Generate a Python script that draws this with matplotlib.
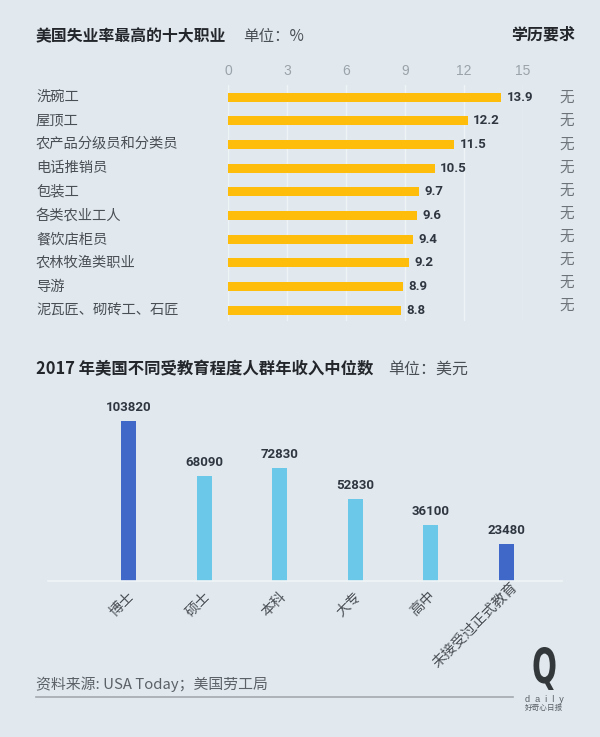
import matplotlib
matplotlib.use('Agg')
import matplotlib.pyplot as plt
from matplotlib.textpath import TextPath
from matplotlib.patches import PathPatch
from matplotlib.font_manager import FontProperties
from matplotlib.transforms import Affine2D

plt.rcParams['font.family'] = ['Noto Sans CJK SC', 'DejaVu Sans']

# datos
jobs = ['洗碗工', '屋顶工', '农产品分级员和分类员', '电话推销员', '包装工',
        '各类农业工人', '餐饮店柜员', '农林牧渔类职业', '导游', '泥瓦匠、砌砖工、石匠']
rates = [13.9, 12.2, 11.5, 10.5, 9.7, 9.6, 9.4, 9.2, 8.9, 8.8]
edu_req = ['无'] * 10
rate_ticks = [0, 3, 6, 9, 12, 15]

degrees = ['博士', '硕士', '本科', '大专', '高中', '未接受过正式教育']
incomes = [103820, 68090, 72830, 52830, 36100, 23480]
degree_colors = ['#3f68c8', '#6cc8e8', '#6cc8e8', '#6cc8e8', '#6cc8e8', '#3f68c8']

W, H = 600, 737
BG = '#e1e9ef'
latin = ['Liberation Sans', 'DejaVu Sans']
value_font = ['Roboto', 'DejaVu Sans']


def px_axes(fig, left, top, right, bottom):
    a = fig.add_axes([left / W, 1 - bottom / H, (right - left) / W, (bottom - top) / H])
    a.patch.set_visible(False)
    for s in a.spines.values():
        s.set_visible(False)
    return a


def txt(x, y, s, **kw):
    kw.setdefault('va', 'center')
    return fig.text(x / W, 1 - y / H, s, **kw)


fig = plt.figure(figsize=(W / 100, H / 100), dpi=100, facecolor=BG)

# --- grafico de paro ---
ax = px_axes(fig, 228, 85, 523, 321)
ax.barh(range(len(rates)), rates, height=0.38, color='#fdbd0a', zorder=2)
ax.set_xlim(0, 15)
ax.set_ylim(9.46, -0.507)
ax.set_xticks(rate_ticks)
ax.set_yticks([])
ax.xaxis.tick_top()
ax.tick_params(axis='x', length=0, pad=5, labelsize=10, labelcolor='#9aa3a9')
for lab in ax.get_xticklabels():
    lab.set_family(latin)
ax.grid(axis='x', color='#eef3f6', lw=1, zorder=1)
for i, v in enumerate(rates):
    ax.text(v + 0.27, i, f'{v}', va='center', ha='left', fontsize=9.5,
            family=value_font, fontweight='bold', color='#2f3640')
for i, name in enumerate(jobs):
    txt(36, 96.5 + i * 23.8, name, fontsize=10.3, color='#4a4f55')
    txt(567, 98 + i * 23.1, edu_req[i], fontsize=10.5, color='#6d7378', ha='center')

txt(36, 36, '美国失业率最高的十大职业', fontsize=11.4, fontweight='bold', color='#23262b')
txt(243, 36, '单位：%', fontsize=11.2, color='#4a4f55')
txt(575, 35, '学历要求', fontsize=11.5, fontweight='bold', color='#23262b', ha='right')

# --- grafico de ingresos ---
ax2 = px_axes(fig, 48, 400, 562, 580.5)
x = list(range(len(incomes)))
ax2.bar(x, incomes, width=0.2, color=degree_colors, zorder=2)
ax2.set_xlim(-1.07, 5.74)
ax2.set_ylim(0, 103820 * 180.5 / 160)
ax2.set_yticks([])
ax2.set_xticks([])
ax2.spines['bottom'].set_visible(True)
ax2.spines['bottom'].set_color('#f0f4f7')
ax2.spines['bottom'].set_linewidth(1.2)
for i, v in zip(x, incomes):
    ax2.text(i, v + 4500, str(v), ha='center', va='bottom', fontsize=9.5,
             family=value_font, fontweight='bold', color='#2f3640')
# etiquetas giradas, ancladas por su extremo derecho
label_px = [(127, 589), (203, 589), (279, 589), (354, 589), (428, 588), (510, 580)]
for (lx, ly), name in zip(label_px, degrees):
    txt(lx, ly, name, fontsize=10.3, color='#4a4f55', rotation=45,
        ha='right', va='top', rotation_mode='anchor')

txt(36, 369, '2017 年美国不同受教育程度人群年收入中位数', fontsize=11.8,
    fontweight='bold', color='#23262b')
txt(388, 369, '单位：美元', fontsize=11.5, color='#4a4f55')

# --- pie ---
txt(36, 684, '资料来源: USA Today；美国劳工局', fontsize=10.7, color='#5b6166')
fig.add_artist(plt.Line2D([36 / W, 513 / W], [1 - 697 / H] * 2, color='#a3a9ad', lw=1.2))

# logo
logo = px_axes(fig, 520, 640, 570, 720)
logo.set_xlim(520, 570)
logo.set_ylim(720, 640)
logo.axis('off')
tp = TextPath((0, 0), 'Q', size=10, prop=FontProperties(family='DejaVu Sans', weight='bold'))
bb = tp.get_extents()
t = (Affine2D().translate(-bb.x0, -bb.y0)
     .scale(22 / bb.width, -(690 - 647) / bb.height)
     .translate(533.5, 690))
logo.add_patch(PathPatch(t.transform_path(tp), fc='#33383b', ec='none'))
txt(544, 699, 'd  a  i  l  y', fontsize=6.5, color='#5b6166', ha='center', family=latin)
txt(544, 708, '好奇心日报', fontsize=5.5, color='#5b6166', ha='center')

fig.savefig('out.png', dpi=100, facecolor=BG)
